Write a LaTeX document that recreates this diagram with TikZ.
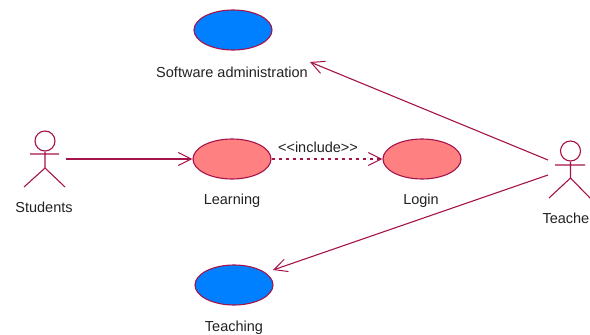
\documentclass[tikz,border=0pt]{standalone}
\usepackage{fontspec}
\setmainfont{Liberation Sans}
\usetikzlibrary{arrows.meta,shapes.geometric}
\definecolor{umlline}{HTML}{A5134B}
\definecolor{usered}{HTML}{FF8080}
\definecolor{useblue}{HTML}{0080FF}
\definecolor{txt}{HTML}{222222}
\tikzset{
  x=1pt,y=-1pt,
  usecase/.style={draw=umlline,line width=1.1pt,ellipse,minimum width=78pt,minimum height=40pt,inner sep=0pt},
  lbl/.style={font=\fontsize{14.5}{16}\selectfont,text=txt,inner sep=0pt,anchor=base},
  assoc/.style={draw=umlline,line width=1.1pt,-{Straight Barb[length=13pt,width=13pt,line width=1pt]}},
  dep/.style={assoc,dash pattern=on 3.5pt off 3.5pt,-{Straight Barb[length=13pt,width=13pt,line width=1pt,sep=0pt]}},
  stick/.style={draw=umlline,line width=1.1pt},
}
\begin{document}
\begin{tikzpicture}
\useasboundingbox (0,0) rectangle (590,335);
\fill[white] (0,0) rectangle (590,335);
\node[usecase,fill=useblue] (admin) at (233,30) {};
\node[usecase,fill=usered] (learn) at (232,159) {};
\node[usecase,fill=usered] (login) at (422,159) {};
\node[usecase,fill=useblue] (teach) at (234,285) {};
\node[lbl] (adminl) at (232,77) {Software administration};
\node[lbl] (learnl) at (232,204) {Learning};
\node[lbl] (loginl) at (421,204) {Login};
\node[lbl] (teachl) at (234,331) {Teaching};
\node[lbl] (studl) at (44,212) {Students};
\node[lbl,anchor=base east] (teacl) at (589.5,223) {Teache};
\node[lbl] (incl) at (318,152) {{<}{<}include{>}{>}};
% Students actor
\node[stick,circle,minimum size=20pt,inner sep=0pt] (shead) at (45,141) {};
\coordinate (sneck) at (45,168);
\coordinate (sarmL) at (30,154);
\coordinate (sarmR) at (59,154);
\coordinate (slegL) at (24,187);
\coordinate (slegR) at (65,187);
\draw[stick] (shead.south) -- (sneck) (sarmL) -- (sarmR) (slegL) -- (sneck) -- (slegR);
% Teacher actor
\node[stick,circle,minimum size=20pt,inner sep=0pt] (thead) at (570.5,151) {};
\coordinate (tneck) at (570.5,178);
\coordinate (tarmL) at (555,165);
\coordinate (tarmR) at (585,165);
\coordinate (tlegL) at (549,198);
\coordinate (tlegR) at (590,198);
\draw[stick] (thead.south) -- (tneck) (tarmL) -- (tarmR) (tlegL) -- (tneck) -- (tlegR);
% connector ends
\coordinate (sout) at (66,159);
\coordinate (tout1) at (548,160);
\coordinate (tout2) at (548,175);
\coordinate (adminin) at (310,62);
\coordinate (teachin) at (273,270);
\draw[assoc] (sout) -- (learn.west);
\draw[dep] (learn.east) -- (login.west);
\draw[assoc] (tout1) -- (adminin);
\draw[assoc] (tout2) -- (teachin);
\end{tikzpicture}
\end{document}
